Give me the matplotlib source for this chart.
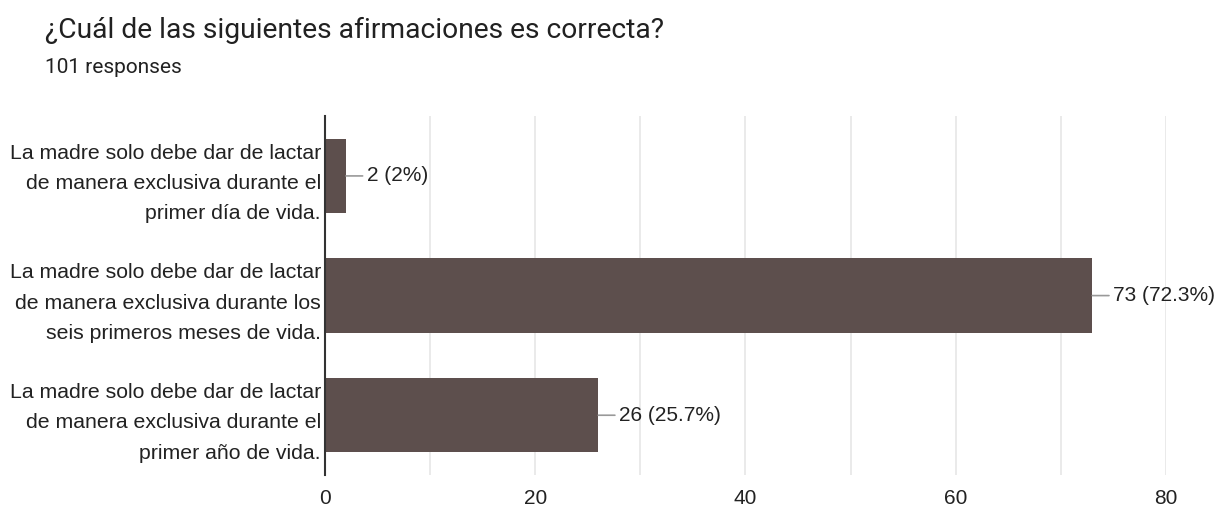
import matplotlib.pyplot as plt

# Survey data
categories = [
    'La madre solo debe dar de lactar\nde manera exclusiva durante el\nprimer día de vida.',
    'La madre solo debe dar de lactar\nde manera exclusiva durante los\nseis primeros meses de vida.',
    'La madre solo debe dar de lactar\nde manera exclusiva durante el\nprimer año de vida.',
]
counts = [2, 73, 26]
percents = ['2%', '72.3%', '25.7%']
xticks = [0, 20, 40, 60, 80]

plt.rcParams['font.family'] = ['Liberation Sans', 'DejaVu Sans']

fig = plt.figure(figsize=(12.17, 5.07), dpi=100)
ax = fig.add_axes([0.267, 0.063, 0.691, 0.708])

ypos = list(range(len(categories)))
ax.barh(ypos, counts, height=0.62, color='#5d4f4d', zorder=3)

for y, c, p in zip(ypos, counts, percents):
    ax.annotate(f'{c} ({p})', xy=(c, y), xytext=(15, 0), textcoords='offset points',
                va='center', ha='left', fontsize=15, color='#222222',
                arrowprops=dict(arrowstyle='-', color='#999999', lw=1.2,
                                shrinkA=1, shrinkB=0))

ax.set_xlim(0, 80)
ax.set_ylim(2.5, -0.5)
ax.set_xticks(xticks)
ax.set_xticks(range(0, 81, 10), minor=True)
ax.set_yticks(ypos)
ax.set_yticklabels(categories, fontsize=15.3, color='#222222', linespacing=1.75)
ax.tick_params(axis='x', labelsize=15, colors='#222222', length=0, pad=10, which='both')
ax.tick_params(axis='y', length=0, pad=3)
ax.grid(axis='x', which='both', color='#e6e6e6', lw=1.2, zorder=0)

for s in ['top', 'right', 'bottom']:
    ax.spines[s].set_visible(False)
ax.spines['left'].set_color('#333333')
ax.spines['left'].set_linewidth(1.5)
ax.spines['left'].set_zorder(4)

fig.text(0.037, 0.94, '¿Cuál de las siguientes afirmaciones es correcta?',
         fontsize=20.3, color='#212121', va='center', family=['Roboto', 'DejaVu Sans'])
fig.text(0.037, 0.866, '101 responses', fontsize=15, color='#212121', va='center',
         family=['Roboto', 'DejaVu Sans'])

fig.savefig('out.png', dpi=100)
